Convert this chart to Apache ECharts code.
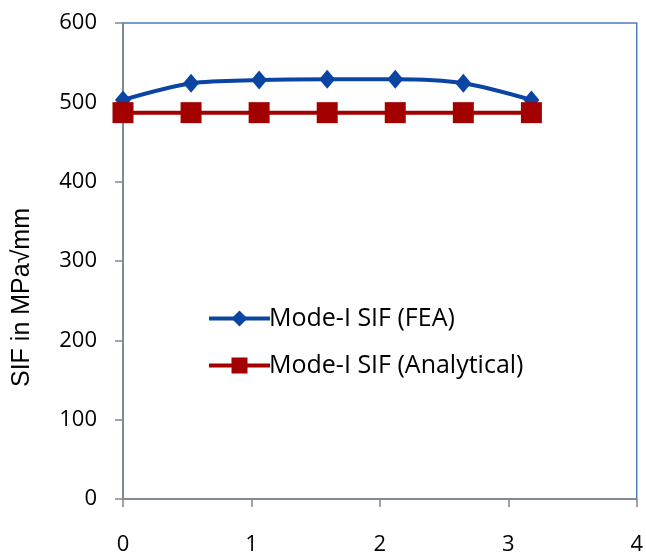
<!DOCTYPE html>
<html>
<head>
<meta charset="utf-8">
<script src="https://cdn.jsdelivr.net/npm/echarts@6/dist/echarts.min.js"></script>
<style>html,body{margin:0;padding:0;background:#fff;}#c{width:646px;height:556px;}</style>
</head>
<body>
<div id="c"></div>
<script>
const xValues = [0, 0.53, 1.06, 1.59, 2.12, 2.65, 3.18];
const feaValues = [503, 524, 528, 529, 529, 524, 503];
const analyticalValues = [487, 487, 487, 487, 487, 487, 487];
const xTicks = [0, 1, 2, 3, 4];
const yTicks = [0, 100, 200, 300, 400, 500, 600];
const seriesNames = ['Mode-I SIF (FEA)', 'Mode-I SIF (Analytical)'];
const yAxisTitle = 'SIF in MPa\u221Amm';

const chart = echarts.init(document.getElementById('c'));
const labelFont = '"Open Sans", "Noto Sans", sans-serif';
chart.setOption({
  animation: false,
  grid: {left: 123, top: 23, right: 5, bottom: 57, show: true, borderColor: '#4a7ebb', borderWidth: 1.5, backgroundColor: 'transparent'},
  xAxis: {
    type: 'value', min: xTicks[0], max: xTicks[xTicks.length - 1], interval: 1,
    axisLine: {show: true, lineStyle: {color: '#868686', width: 1.5}},
    axisTick: {show: true, length: 8, lineStyle: {color: '#868686', width: 1.5}},
    splitLine: {show: false},
    axisLabel: {color: '#000', fontSize: 22, fontFamily: labelFont, margin: 35, showMaxLabel: true}
  },
  yAxis: {
    type: 'value', min: yTicks[0], max: yTicks[yTicks.length - 1], interval: 100,
    axisLine: {show: true, lineStyle: {color: '#868686', width: 1.5}},
    axisTick: {show: true, length: 8, lineStyle: {color: '#868686', width: 1.5}},
    splitLine: {show: false},
    axisLabel: {color: '#000', fontSize: 22, fontFamily: labelFont, margin: 26}
  },
  legend: {
    show: true, orient: 'vertical', left: 202, top: 301, itemGap: 22,
    itemWidth: 61, itemHeight: 20,
    lineStyle: {width: 4},
    textStyle: {color: '#000', fontSize: 25, fontFamily: labelFont, padding: [0, 0, 0, -6]},
    data: seriesNames
  },
  graphic: [{
    type: 'text', left: 10, top: 208, rotation: Math.PI / 2,
    style: {text: yAxisTitle, fill: '#000', font: '25px "Liberation Sans", Arial, sans-serif'}
  }],
  series: [
    {
      name: seriesNames[0], type: 'line', smooth: 0.3,
      data: xValues.map((x, i) => [x, feaValues[i]]),
      symbol: 'diamond', symbolSize: [16, 19],
      lineStyle: {color: '#0a45a3', width: 4},
      itemStyle: {color: '#0a45a3'}
    },
    {
      name: seriesNames[1], type: 'line',
      data: xValues.map((x, i) => [x, analyticalValues[i]]),
      symbol: 'rect', symbolSize: [21, 21],
      lineStyle: {color: '#a30000', width: 4},
      itemStyle: {color: '#a30000'}
    }
  ]
});
</script>
</body>
</html>
